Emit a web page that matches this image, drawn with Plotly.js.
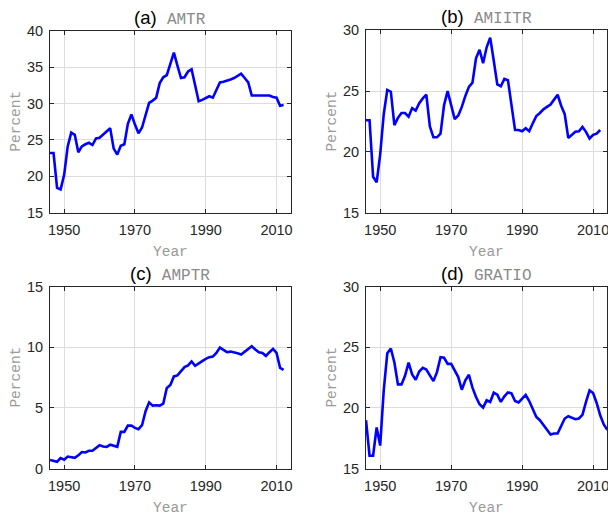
<!DOCTYPE html>
<html>
<head>
<meta charset="utf-8">
<script src="https://cdn.plot.ly/plotly-3.0.1.min.js"></script>
<style>html,body{margin:0;padding:0;background:#fff;}#chart{width:608px;height:517px;}</style>
</head>
<body>
<div id="chart"></div>
<script>
const years = [1946,1947,1948,1949,1950,1951,1952,1953,1954,1955,1956,1957,1958,1959,1960,1961,1962,1963,1964,1965,1966,1967,1968,1969,1970,1971,1972,1973,1974,1975,1976,1977,1978,1979,1980,1981,1982,1983,1984,1985,1986,1987,1988,1989,1990,1991,1992,1993,1994,1995,1996,1997,1998,1999,2000,2001,2002,2003,2004,2005,2006,2007,2008,2009,2010,2011,2012];
const yearsGratio = [1946,1947,1948,1949,1950,1951,1952,1953,1954,1955,1956,1957,1958,1959,1960,1961,1962,1963,1964,1965,1966,1967,1968,1969,1970,1971,1972,1973,1974,1975,1976,1977,1978,1979,1980,1981,1982,1983,1984,1985,1986,1987,1988,1989,1990,1991,1992,1993,1994,1995,1996,1997,1998,1999,2000,2001,2002,2003,2004,2005,2006,2007,2008,2009,2010,2011,2012,2013,2014];

const amtr = [23.2,23.2,18.4,18.2,20.2,24.1,26.0,25.7,23.3,24.1,24.4,24.6,24.3,25.2,25.3,25.7,26.2,26.6,23.8,23.0,24.2,24.4,27.2,28.5,27.1,25.9,26.7,28.5,30.1,30.4,30.8,32.8,33.6,33.9,35.5,37.0,35.2,33.5,33.6,34.4,34.7,32.3,30.3,30.5,30.7,31.0,30.8,31.9,32.9,33.0,33.1,33.3,33.5,33.8,34.1,33.5,32.9,31.1,31.1,31.1,31.2,31.2,31.1,30.9,30.8,29.7,29.8];
const amiitr = [22.6,22.6,17.95,17.5,19.8,23.1,25.1,24.95,22.2,22.8,23.2,23.2,22.9,23.6,23.4,24.0,24.4,24.7,22.1,21.2,21.2,21.5,23.85,25.0,23.85,22.7,23.0,23.7,24.6,25.35,25.7,27.7,28.4,27.3,28.6,29.4,27.5,25.55,25.4,26.0,25.9,23.8,21.8,21.8,21.7,21.95,21.7,22.35,22.95,23.2,23.5,23.7,23.9,24.3,24.7,23.8,23.1,21.15,21.4,21.65,21.7,22.05,21.65,21.1,21.4,21.5,21.8];
const amptr = [0.72,0.66,0.57,0.87,0.74,1.0,0.95,0.9,1.1,1.37,1.34,1.48,1.48,1.72,1.94,1.83,1.8,1.97,1.86,1.8,3.03,3.03,3.55,3.55,3.36,3.25,3.58,4.73,5.46,5.19,5.22,5.19,5.36,6.64,6.9,7.6,7.68,8.03,8.36,8.5,8.83,8.47,8.63,8.85,9.04,9.18,9.23,9.53,9.97,9.78,9.59,9.64,9.59,9.5,9.4,9.64,9.86,10.08,9.81,9.59,9.53,9.29,9.59,9.86,9.53,8.3,8.14];
const gratio = [18.99,16.07,16.07,18.39,16.9,21.45,24.5,24.9,23.74,21.94,21.94,22.65,23.74,22.76,22.32,23.0,23.3,23.17,22.68,22.21,22.95,24.18,24.13,23.63,23.63,23.14,22.54,21.5,22.27,22.73,21.67,20.9,20.3,20.03,20.63,20.5,21.26,21.1,20.5,20.96,21.28,21.2,20.57,20.46,20.8,21.07,20.57,19.86,19.26,18.99,18.58,18.17,17.81,17.9,17.9,18.52,19.13,19.32,19.2,19.07,19.13,19.43,20.5,21.45,21.23,20.41,19.4,18.65,18.2];

const panelLetters = ['(a)','(b)','(c)','(d)'];
const panelNames = ['AMTR','AMIITR','AMPTR','GRATIO'];
const yRanges = [[15,40],[15,30],[0,15],[15,30]];
const xTitle = 'Year';
const yTitle = 'Percent';

const W = 608, H = 517;
// pixel boxes [left, right, top, bottom]
const boxes = [[50,290.7,30.7,212.7],[366,607.3,30.3,212.7],[50,290.7,286.5,468.7],[366,607.3,286.5,468.7]];

const xs = [years, years, years, yearsGratio];
const ys = [amtr, amiitr, amptr, gratio];

const data = [];
const layout = {
  width: W, height: H,
  margin: {l:0,r:0,t:0,b:0},
  paper_bgcolor: '#fff', plot_bgcolor: '#fff',
  showlegend: false,
  annotations: []
};
const axisFont = {family:'Liberation Sans, Arial, sans-serif', size:14.5, color:'#262626'};
const labelFont = {family:'Liberation Mono, Courier New, monospace', size:14.5, color:'#9a9a9a'};

for (let i = 0; i < 4; i++) {
  const sfx = i === 0 ? '' : String(i+1);
  data.push({
    x: xs[i], y: ys[i], type:'scatter', mode:'lines',
    xaxis: 'x'+sfx, yaxis: 'y'+sfx,
    line: {color:'#0000ff', width:2.6},
    cliponaxis: true,
    hoverinfo: 'skip'
  });
  const b = boxes[i];
  const common = {
    showline: true, linecolor:'#262626', linewidth:1, mirror:'ticks',
    ticks:'inside', ticklen:4, tickcolor:'#262626', tickwidth:1,
    showgrid: true, gridcolor:'#dcdcdc', gridwidth:1,
    zeroline:false, tickfont: axisFont, fixedrange:true,
    ticklabeloverflow: 'allow'
  };
  layout['xaxis'+sfx] = Object.assign({}, common, {
    domain:[b[0]/W, b[1]/W], anchor:'y'+sfx,
    range:[1946,2014], tick0:1950, dtick:20, ticklabelstandoff: 4
  });
  layout['yaxis'+sfx] = Object.assign({}, common, {
    domain:[1-b[3]/H, 1-b[2]/H], anchor:'x'+sfx,
    range:yRanges[i], dtick:5, ticklabelstandoff: 3
  });
  const cx = (b[0]+b[1])/2/W;
  layout.annotations.push({
    xref:'paper', yref:'paper', x: cx, y: 1-(b[2]-13)/H, xanchor:'center', yanchor:'middle',
    showarrow:false,
    text: panelLetters[i] + '  <span style="font-family:Liberation Mono, Courier New, monospace;font-size:16px;color:#8a8a8a">' + panelNames[i] + '</span>',
    font:{family:'Liberation Sans, Arial, sans-serif', size:18.5, color:'#000'}
  });
  layout.annotations.push({
    xref:'paper', yref:'paper', x: cx, y: 1-(b[3]+39)/H, xanchor:'center', yanchor:'middle',
    showarrow:false, text: xTitle, font: labelFont
  });
  layout.annotations.push({
    xref:'paper', yref:'paper', x: (b[0]-34)/W, y: 1-((b[2]+b[3])/2)/H, xanchor:'center', yanchor:'middle',
    showarrow:false, text: yTitle, font: labelFont, textangle:-90
  });
}

Plotly.newPlot('chart', data, layout, {staticPlot:true, displayModeBar:false});
</script>
</body>
</html>
